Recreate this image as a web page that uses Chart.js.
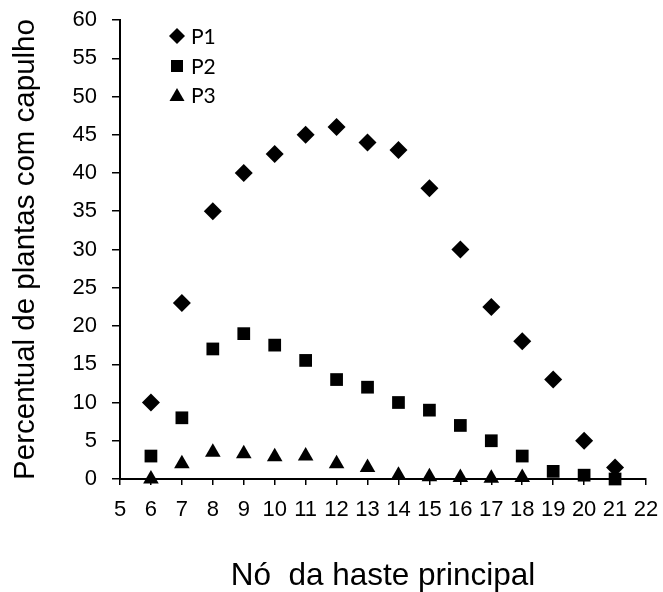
<!DOCTYPE html>
<html>
<head>
<meta charset="utf-8">
<script src="https://cdn.jsdelivr.net/npm/chart.js@4/dist/chart.umd.min.js"></script>
<style>
    html, body { margin: 0; padding: 0; background: #ffffff; }
    #grafico { display: block; }
</style>
</head>
<body>
<canvas id="grafico" width="663" height="592"></canvas>
<script>

// nó da haste principal (eixo x)
const nosP1 = [6, 7, 8, 9, 10, 11, 12, 13, 14, 15, 16, 17, 18, 19, 20, 21];
const nosP2 = [6, 7, 8, 9, 10, 11, 12, 13, 14, 15, 16, 17, 18, 19, 20, 21];
const nosP3 = [6, 7, 8, 9, 10, 11, 12, 13, 14, 15, 16, 17, 18];

// percentual de plantas com capulho
const valoresP1 = [10, 23, 35, 40, 42.5, 45, 46, 44, 43, 38, 30, 22.5, 18, 13, 5, 1.5];
const valoresP2 = [3, 8, 17, 19, 17.5, 15.5, 13, 12, 10, 9, 7, 5, 3, 1, 0.5, 0];
const valoresP3 = [0, 2, 3.5, 3.3, 2.9, 3, 2, 1.5, 0.5, 0.3, 0.2, 0.1, 0.2];

const nomesSeries = ["P1", "P2", "P3"];

function montarPontos(xs, ys) {
    return xs.map((x, i) => ({ x: x, y: ys[i] }));
}

// legenda desenhada dentro da área do gráfico, como no original
const legendaInterna = {
    id: "legendaInterna",
    afterDraw(chart) {
        const ctx = chart.ctx;
        const area = chart.chartArea;
        const x0 = area.left + 57;
        const linhas = [area.top + 16, area.top + 46, area.top + 75];

        ctx.save();
        ctx.fillStyle = "#000000";
        ctx.font = "21px Lato, 'Open Sans', sans-serif";
        ctx.textBaseline = "middle";

        chart.data.datasets.forEach((ds, i) => {
            const y = linhas[i];
            ctx.beginPath();
            if (ds.pointStyle === "rectRot") {
                ctx.moveTo(x0, y - 8);
                ctx.lineTo(x0 + 8, y);
                ctx.lineTo(x0, y + 8);
                ctx.lineTo(x0 - 8, y);
            } else if (ds.pointStyle === "rect") {
                ctx.rect(x0 - 6, y - 6, 12, 12);
            } else {
                ctx.moveTo(x0, y - 7);
                ctx.lineTo(x0 + 7.5, y + 6);
                ctx.lineTo(x0 - 7.5, y + 6);
            }
            ctx.closePath();
            ctx.fill();
            ctx.fillText(ds.label, x0 + 14, y + 1);
        });
        ctx.restore();
    }
};

function criarGrafico() {

    const ctx = document.getElementById("grafico");

    const familia = "'Liberation Sans', Arial, sans-serif";

    const fonteTicks = {
        family: familia,
        size: 22
    };

    new Chart(ctx, {

        type: "scatter",

        data: {
            datasets: [
                {
                    label: nomesSeries[0],
                    data: montarPontos(nosP1, valoresP1),
                    pointStyle: "rectRot",
                    pointRadius: 9,
                    backgroundColor: "#000000",
                    borderColor: "#000000",
                    borderWidth: 0,
                    clip: false,
                    order: 3
                },
                {
                    label: nomesSeries[1],
                    data: montarPontos(nosP2, valoresP2),
                    pointStyle: "rect",
                    pointRadius: 9,
                    backgroundColor: "#000000",
                    borderColor: "#000000",
                    borderWidth: 0,
                    clip: false,
                    order: 2
                },
                {
                    label: nomesSeries[2],
                    data: montarPontos(nosP3, valoresP3),
                    pointStyle: "triangle",
                    pointRadius: 9,
                    backgroundColor: "#000000",
                    borderColor: "#000000",
                    borderWidth: 0,
                    clip: false,
                    order: 1
                }
            ]
        },

        options: {
            responsive: false,
            animation: false,
            layout: {
                padding: { top: 20, right: 17, bottom: 0, left: 0 }
            },
            plugins: {
                legend: { display: false },
                tooltip: { enabled: false }
            },
            scales: {
                x: {
                    type: "linear",
                    min: 5,
                    max: 22,
                    afterFit: (s) => {
                        s.height = 113;
                        s.paddingLeft = 0;
                        s.paddingRight = 0;
                    },
                    ticks: {
                        stepSize: 1,
                        color: "#000000",
                        font: fonteTicks,
                        padding: 12,
                        maxRotation: 0,
                        autoSkip: false
                    },
                    grid: {
                        drawOnChartArea: false,
                        drawTicks: true,
                        tickLength: 6,
                        color: "#000000",
                        lineWidth: 1.5
                    },
                    border: { color: "#000000", width: 2 },
                    title: {
                        display: true,
                        text: "Nó  da haste principal",
                        color: "#000000",
                        font: { family: familia, size: 31.5, lineHeight: 1 },
                        padding: { top: 0, bottom: 0 }
                    }
                },
                y: {
                    min: 0,
                    max: 60,
                    afterFit: (s) => {
                        s.width = 120;
                        s.paddingTop = 0;
                        s.paddingBottom = 0;
                    },
                    ticks: {
                        stepSize: 5,
                        color: "#000000",
                        font: fonteTicks,
                        padding: 15
                    },
                    grid: {
                        drawOnChartArea: false,
                        drawTicks: true,
                        tickLength: 8,
                        color: "#000000",
                        lineWidth: 1.5
                    },
                    border: { color: "#000000", width: 2 },
                    title: {
                        display: true,
                        text: "Percentual de plantas com capulho",
                        color: "#000000",
                        font: { family: familia, size: 29.5 },
                        padding: { top: 8, bottom: 0 }
                    }
                }
            }
        },

        plugins: [legendaInterna]
    });
}

criarGrafico();
</script>
</body>
</html>
